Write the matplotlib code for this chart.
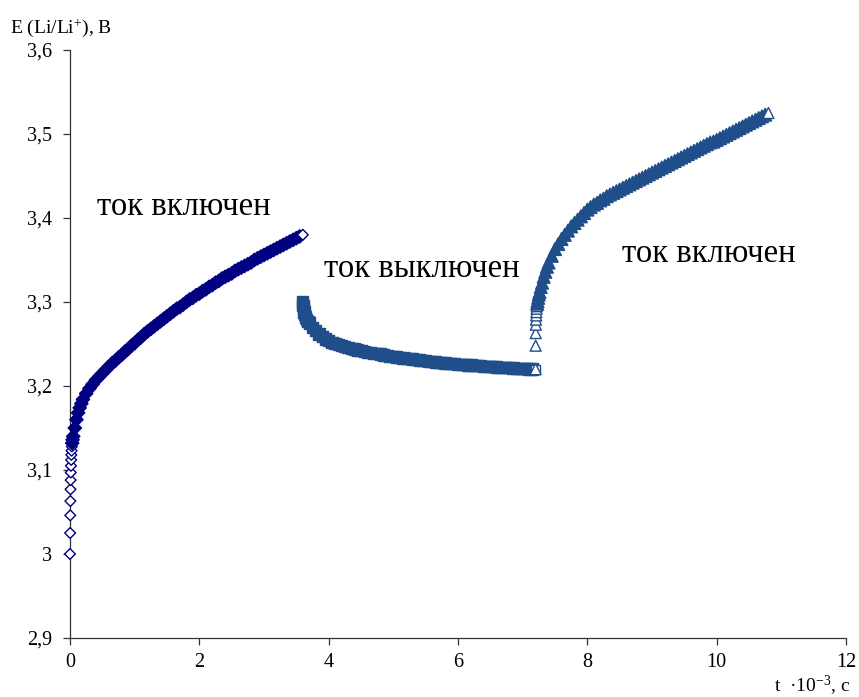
import matplotlib
matplotlib.use("Agg")
import matplotlib.pyplot as plt
from matplotlib.ticker import FixedLocator, FixedFormatter

plt.rcParams["font.family"] = ["Liberation Serif", "DejaVu Serif"]
plt.rcParams["mathtext.fontset"] = "custom"
plt.rcParams["mathtext.rm"] = "Liberation Serif"
plt.rcParams["mathtext.it"] = "Liberation Serif:italic"

# --- current on: potential rise (time in 10^3 s, potential in V vs Li/Li+) ---
t_on1 = [0.000, 0.002, 0.004, 0.006, 0.008, 0.010, 0.012, 0.015, 0.018, 0.021,
         0.025, 0.029, 0.034, 0.040, 0.050, 0.075, 0.100, 0.125, 0.150, 0.175,
         0.20, 0.25, 0.30, 0.35, 0.40, 0.45, 0.50, 0.55, 0.60, 0.65,
         0.70, 0.75, 0.80, 0.85, 0.90, 0.95, 1.00, 1.05, 1.10, 1.15,
         1.20, 1.25, 1.30, 1.35, 1.40, 1.45, 1.50, 1.55, 1.60, 1.65,
         1.70, 1.75, 1.80, 1.85, 1.90, 1.95, 2.00, 2.05, 2.10, 2.15,
         2.20, 2.25, 2.30, 2.35, 2.40, 2.45, 2.50, 2.55, 2.60, 2.65,
         2.70, 2.75, 2.80, 2.85, 2.90, 2.95, 3.00, 3.05, 3.10, 3.15,
         3.20, 3.25, 3.30, 3.35, 3.40, 3.45, 3.50, 3.55, 3.60]
E_on1 = [3.000, 3.025, 3.046, 3.063, 3.077, 3.088, 3.097, 3.105, 3.112, 3.118,
         3.123, 3.128, 3.132, 3.136, 3.140, 3.150, 3.160, 3.168, 3.174, 3.179,
         3.184, 3.191, 3.197, 3.202, 3.207, 3.211, 3.215, 3.219, 3.223, 3.227,
         3.230, 3.234, 3.237, 3.241, 3.244, 3.248, 3.251, 3.255, 3.258, 3.262,
         3.265, 3.268, 3.271, 3.274, 3.277, 3.280, 3.283, 3.286, 3.289, 3.292,
         3.294, 3.297, 3.300, 3.303, 3.305, 3.308, 3.310, 3.313, 3.315, 3.318,
         3.320, 3.323, 3.325, 3.328, 3.330, 3.332, 3.334, 3.337, 3.339, 3.341,
         3.343, 3.345, 3.347, 3.350, 3.352, 3.354, 3.356, 3.358, 3.360, 3.362,
         3.364, 3.366, 3.368, 3.370, 3.372, 3.374, 3.376, 3.378, 3.380]

# --- current off: relaxation ---
t_off = [3.600, 3.605, 3.610, 3.620, 3.630, 3.640, 3.660, 3.680, 3.70, 3.75,
         3.80, 3.85, 3.90, 3.95, 4.00, 4.05, 4.10, 4.15, 4.20, 4.25,
         4.30, 4.35, 4.40, 4.45, 4.50, 4.55, 4.60, 4.65, 4.70, 4.75,
         4.80, 4.85, 4.90, 4.95, 5.00, 5.05, 5.10, 5.15, 5.20, 5.25,
         5.30, 5.35, 5.40, 5.45, 5.50, 5.55, 5.60, 5.65, 5.70, 5.75,
         5.80, 5.85, 5.90, 5.95, 6.00, 6.05, 6.10, 6.15, 6.20, 6.25,
         6.30, 6.35, 6.40, 6.45, 6.50, 6.55, 6.60, 6.65, 6.70, 6.75,
         6.80, 6.85, 6.90, 6.95, 7.00, 7.05, 7.10, 7.15, 7.20]
E_off = [3.300, 3.296, 3.292, 3.288, 3.285, 3.282, 3.279, 3.277, 3.275, 3.270,
         3.266, 3.262, 3.259, 3.256, 3.254, 3.252, 3.251, 3.249, 3.248, 3.247,
         3.246, 3.245, 3.244, 3.243, 3.242, 3.241, 3.240, 3.2395, 3.239, 3.2385,
         3.238, 3.237, 3.236, 3.2355, 3.235, 3.2345, 3.234, 3.2335, 3.233, 3.2325,
         3.232, 3.2315, 3.231, 3.2305, 3.230, 3.2295, 3.229, 3.2285, 3.228, 3.228,
         3.2275, 3.227, 3.227, 3.2265, 3.226, 3.226, 3.2255, 3.225, 3.225, 3.2245,
         3.224, 3.224, 3.2235, 3.2232, 3.223, 3.2228, 3.2225, 3.2222, 3.222, 3.2218,
         3.2216, 3.2214, 3.2212, 3.221, 3.2208, 3.2206, 3.2204, 3.2202, 3.220]

# --- current on again ---
t_on2 = [7.200, 7.201, 7.202, 7.204, 7.206, 7.209, 7.212, 7.216, 7.220, 7.225,
         7.230, 7.240, 7.250, 7.260, 7.280, 7.300, 7.325, 7.350, 7.375, 7.40,
         7.45, 7.50, 7.55, 7.60, 7.65, 7.70, 7.75, 7.80, 7.85, 7.90,
         7.95, 8.00, 8.05, 8.10, 8.15, 8.20, 8.25, 8.30, 8.35, 8.40,
         8.45, 8.50, 8.55, 8.60, 8.65, 8.70, 8.75, 8.80, 8.85, 8.90,
         8.95, 9.00, 9.05, 9.10, 9.15, 9.20, 9.25, 9.30, 9.35, 9.40,
         9.45, 9.50, 9.55, 9.60, 9.65, 9.70, 9.75, 9.80, 9.85, 9.90,
         9.95, 10.00, 10.05, 10.10, 10.15, 10.20, 10.25, 10.30, 10.35, 10.40,
         10.45, 10.50, 10.55, 10.60, 10.65, 10.70, 10.75, 10.80]
E_on2 = [3.220, 3.248, 3.263, 3.273, 3.279, 3.284, 3.288, 3.292, 3.295, 3.298,
         3.301, 3.305, 3.309, 3.312, 3.318, 3.323, 3.330, 3.336, 3.342, 3.347,
         3.355, 3.363, 3.369, 3.375, 3.380, 3.385, 3.390, 3.394, 3.398, 3.402,
         3.406, 3.410, 3.413, 3.416, 3.418, 3.421, 3.423, 3.426, 3.428, 3.430,
         3.432, 3.434, 3.436, 3.438, 3.440, 3.442, 3.444, 3.446, 3.448, 3.450,
         3.452, 3.454, 3.456, 3.458, 3.460, 3.462, 3.464, 3.466, 3.468, 3.470,
         3.472, 3.474, 3.476, 3.478, 3.480, 3.482, 3.484, 3.486, 3.488, 3.490,
         3.491, 3.493, 3.495, 3.497, 3.499, 3.501, 3.503, 3.505, 3.507, 3.509,
         3.511, 3.513, 3.515, 3.517, 3.519, 3.521, 3.523, 3.525]

x_ticks = [0, 2, 4, 6, 8, 10, 12]
x_labels = ["0", "2", "4", "6", "8", "10", "12"]
y_ticks = [2.9, 3.0, 3.1, 3.2, 3.3, 3.4, 3.5, 3.6]
y_labels = ["2,9", "3", "3,1", "3,2", "3,3", "3,4", "3,5", "3,6"]

navy = "#000080"
blue = "#1f4e8a"


def draw_series(ax, t, e, marker, s_open, s_band, color, n_open_start):
    """Scatter the points in order; the sparse leading points and the final
    point keep a white face, the dense run is filled so it reads as a band."""
    n = len(t)
    is_open = [(i < n_open_start or i == n - 1) for i in range(n)]
    faces = ["white" if o else color for o in is_open]
    sizes = [s_open if o else s_band for o in is_open]
    ax.scatter(t, e, s=sizes, marker=marker, facecolors=faces,
               edgecolors=color, linewidths=1.0, clip_on=False, zorder=3)


fig = plt.figure(figsize=(8.59, 6.97), dpi=100)
ax = fig.add_axes([70 / 859, 1 - 638 / 697, 776 / 859, 588 / 697])

draw_series(ax, t_on1, E_on1, "D", 30, 46, navy, 12)
draw_series(ax, t_off, E_off, "s", 44, 66, blue, 0)
draw_series(ax, t_on2, E_on2, "^", 62, 84, blue, 9)

ax.set_xlim(0, 12)
ax.set_ylim(2.9, 3.6)
ax.xaxis.set_major_locator(FixedLocator(x_ticks))
ax.xaxis.set_major_formatter(FixedFormatter(x_labels))
ax.yaxis.set_major_locator(FixedLocator(y_ticks))
ax.yaxis.set_major_formatter(FixedFormatter(y_labels))

for side in ("top", "right"):
    ax.spines[side].set_visible(False)
for side in ("left", "bottom"):
    ax.spines[side].set_linewidth(0.9)
    ax.spines[side].set_color("#333333")

ax.tick_params(axis="both", direction="out", length=5, width=0.9,
               color="#333333", labelsize=14.5, labelcolor="black")
ax.tick_params(axis="y", pad=8)
ax.tick_params(axis="x", pad=6)

ax.text(0.42, 3.413, "ток включен", fontsize=23.5, ha="left", va="center")
ax.text(3.93, 3.340, "ток выключен", fontsize=23.5, ha="left", va="center")
ax.text(8.53, 3.358, "ток включен", fontsize=23.5, ha="left", va="center")

fig.text(10 / 859, 1 - 33 / 697, "E (Li/Li$^{+}$), В", fontsize=14,
         ha="left", va="baseline")
fig.text(774 / 859, 1 - 692 / 697, "t  ·10$^{-3}$, с", fontsize=14,
         ha="left", va="baseline")

fig.savefig("out.png", dpi=100)
